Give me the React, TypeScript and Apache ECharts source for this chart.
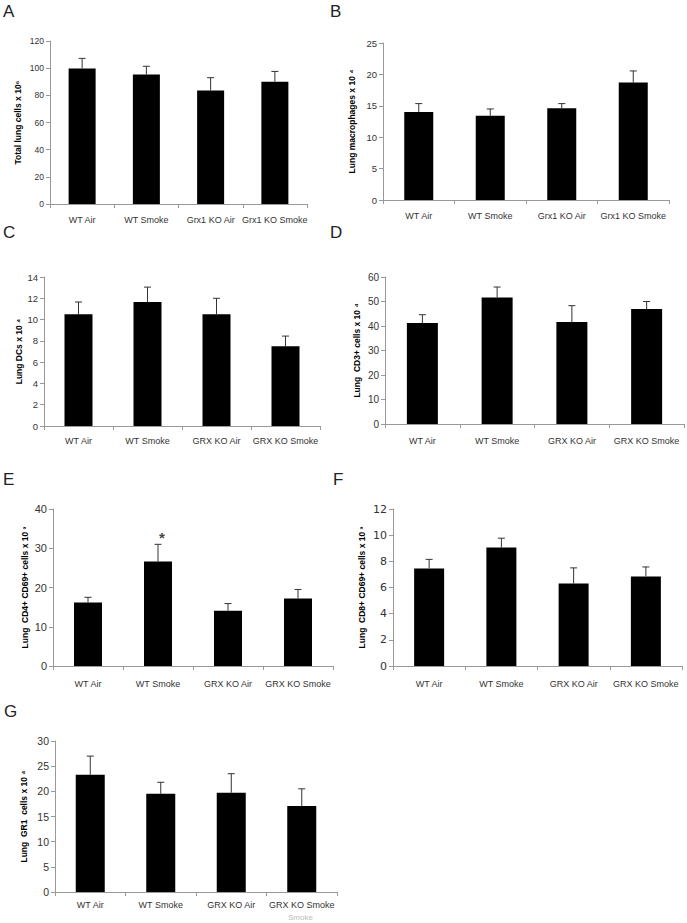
import React, { useEffect, useRef } from 'react';
import * as echarts from 'echarts';

// ---- data ----
const catsGrx1 = ['WT Air', 'WT Smoke', 'Grx1 KO Air', 'Grx1 KO Smoke'];
const catsGrx = ['WT Air', 'WT Smoke', 'GRX KO Air', 'GRX KO Smoke'];

const meansA = [99.8, 95.3, 83.5, 90];
const semA = [7.4, 6.1, 9.5, 7.6];
const meansB = [14, 13.4, 14.6, 18.7];
const semB = [1.35, 1.1, 0.75, 1.85];
const meansC = [10.5, 11.65, 10.5, 7.5];
const semC = [1.15, 1.4, 1.5, 0.95];
const meansD = [41.2, 51.6, 41.6, 46.9];
const semD = [3.4, 4.3, 6.7, 3.1];
const meansE = [16.2, 26.6, 14.1, 17.2];
const semE = [1.3, 4.4, 1.8, 2.3];
const meansF = [7.45, 9.05, 6.3, 6.85];
const semF = [0.7, 0.72, 1.2, 0.72];
const meansG = [23.3, 19.5, 19.7, 17.1];
const semG = [3.7, 2.3, 3.8, 3.4];

const yMaxes = [120, 25, 14, 60, 40, 12, 30];
const yIntervals = [20, 5, 2, 10, 10, 2, 5];
const letters = ['A', 'B', 'C', 'D', 'E', 'F', 'G'];
const yNames = [
  'Total lung cells x 10⁶',
  'Lung macrophages x 10 ⁴',
  'Lung DCs x 10 ⁴',
  'Lung  CD3+ cells x 10 ⁴',
  'Lung  CD4+ CD69+ cells x 10 ³',
  'Lung  CD8+ CD69+ cells x 10 ³',
  'Lung  GR1  cells x 10 ⁴',
];
const starPanel = 4;
const starIndex = 1;
const starValue = 32.8;

const panelCats = [catsGrx1, catsGrx1, catsGrx, catsGrx, catsGrx, catsGrx, catsGrx];
const panelMeans = [meansA, meansB, meansC, meansD, meansE, meansF, meansG];
const panelSem = [semA, semB, semC, semD, semE, semF, semG];

// ---- layout ----
const layout = [
  { left: 50, top: 41, width: 257, height: 163, bar: 27, tick: 8.5, gap: 28, lm: 11, lx: 3, ly: 12 },
  { left: 383, top: 43, width: 286, height: 157, bar: 29, tick: 9.5, gap: 27, lm: 11, lx: 330, ly: 12 },
  { left: 44, top: 277, width: 276, height: 149, bar: 28, tick: 9.5, gap: 19, lm: 10, lx: 3, ly: 233 },
  { left: 385, top: 277, width: 299, height: 147, bar: 31, tick: 10, gap: 23.5, lm: 12, lx: 330, ly: 233 },
  { left: 53, top: 509, width: 280, height: 157, bar: 28, tick: 11, gap: 23.5, lm: 13, lx: 3, ly: 480 },
  { left: 393, top: 509, width: 289, height: 157, bar: 30, tick: 11, gap: 26.5, lm: 13, lx: 333, ly: 480 },
  { left: 55, top: 741, width: 282, height: 151, bar: 29, tick: 10.5, gap: 26.5, lm: 8, lx: 4, ly: 712 },
];

const FONT = '"Liberation Sans", Arial, sans-serif';
const AXIS_COLOR = '#999';

export default function App() {
  const ref = useRef<HTMLDivElement>(null);
  useEffect(() => {
    document.body.style.margin = '0';
    if (!ref.current) return;
    const chart = echarts.init(ref.current, null, { renderer: 'svg' });

    const grid: any[] = [];
    const xAxis: any[] = [];
    const yAxis: any[] = [];
    const series: any[] = [];
    const graphic: any[] = [];

    layout.forEach((l, i) => {
      grid.push({ left: l.left, top: l.top, width: l.width, height: l.height, containLabel: false });
      xAxis.push({
        type: 'category',
        gridIndex: i,
        data: panelCats[i],
        axisLine: { lineStyle: { color: AXIS_COLOR, width: 1 } },
        axisTick: { show: true, length: 4, lineStyle: { color: AXIS_COLOR } },
        axisLabel: { color: '#333', fontSize: 9, fontFamily: FONT, margin: l.lm, interval: 0 },
      });
      yAxis.push({
        type: 'value',
        gridIndex: i,
        min: 0,
        max: yMaxes[i],
        interval: yIntervals[i],
        name: yNames[i],
        nameLocation: 'middle',
        nameGap: l.gap,
        nameTextStyle: { color: '#000', fontSize: 8.5, fontWeight: 'bold', fontFamily: FONT },
        axisLine: { show: true, lineStyle: { color: AXIS_COLOR, width: 1 } },
        axisTick: { show: true, length: 4, lineStyle: { color: AXIS_COLOR } },
        axisLabel: { color: '#333', fontSize: l.tick, fontFamily: i === 5 ? '"DejaVu Sans", sans-serif' : FONT, margin: 6 },
        splitLine: { show: false },
      });
      series.push({
        type: 'bar',
        xAxisIndex: i,
        yAxisIndex: i,
        data: panelMeans[i],
        barWidth: l.bar,
        itemStyle: { color: '#000' },
        silent: true,
      });
      series.push({
        type: 'custom',
        xAxisIndex: i,
        yAxisIndex: i,
        z: 3,
        data: panelMeans[i].map((m, k) => [k, m, m + panelSem[i][k]]),
        encode: { x: 0, y: [1, 2] },
        renderItem: (params: any, api: any) => {
          const x = api.value(0);
          const p0 = api.coord([x, api.value(1)]);
          const p1 = api.coord([x, api.value(2)]);
          return {
            type: 'group',
            children: [
              { type: 'line', shape: { x1: p0[0], y1: p0[1], x2: p1[0], y2: p1[1] }, style: { stroke: '#333', lineWidth: 1 } },
              { type: 'line', shape: { x1: p1[0] - 3.5, y1: p1[1], x2: p1[0] + 3.5, y2: p1[1] }, style: { stroke: '#333', lineWidth: 1 } },
            ],
          };
        },
      });
      graphic.push({
        type: 'text',
        left: l.lx,
        top: l.ly - 9,
        style: { text: letters[i], fontSize: 17, fontFamily: FONT, fill: '#222' },
      });
    });

    series.push({
      type: 'scatter',
      xAxisIndex: starPanel,
      yAxisIndex: starPanel,
      data: [[starIndex, starValue]],
      symbolSize: 0,
      label: { show: true, formatter: '*', position: 'inside', offset: [4, 0], fontSize: 15, fontWeight: 'bold', color: '#111', fontFamily: FONT },
      silent: true,
    });

    graphic.push({
      type: 'text',
      left: 288,
      top: 913,
      style: { text: 'Smoke', fontSize: 8, fontFamily: FONT, fill: '#bbb' },
    });

    chart.setOption({
      animation: false,
      backgroundColor: '#fff',
      grid,
      xAxis,
      yAxis,
      series,
      graphic,
    });
    return () => chart.dispose();
  }, []);
  return <div ref={ref} style={{ width: 687, height: 923 }} />;
}
